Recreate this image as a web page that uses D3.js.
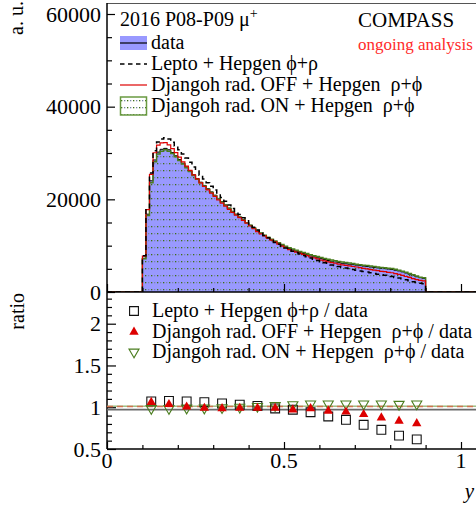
<!DOCTYPE html>
<html>
<head>
<meta charset="utf-8">
<script src="https://cdn.jsdelivr.net/npm/d3@7"></script>
<style>
  body { margin: 0; background: #fff; }
  svg { display: block; }
  text { font-family: "Liberation Serif", "Times New Roman", serif; fill: #000; }
</style>
</head>
<body>
<script>
// ---- y distribution, 0.01-wide bins from y = 0.10 to 0.90 ----
const binStart = 0.10;
const binWidth = 0.01;

const dataCounts = [
  7300, 16800, 24000, 28500, 30200, 30800, 31000, 30700, 30100, 29400,
  28600, 27800, 27000, 26200, 25300, 24500, 23700, 23000, 22300, 21600,
  20900, 20200, 19500, 18800, 18100, 17400, 16800, 16200, 15600, 15000,
  14400, 13800, 13200, 12700, 12200, 11700, 11300, 10900, 10500, 10100,
  9750, 9400, 9100, 8800, 8550, 8300, 8050, 7800, 7600, 7400,
  7200, 7000, 6800, 6650, 6500, 6350, 6200, 6100, 6000, 5900,
  5800, 5700, 5600, 5500, 5400, 5300, 5200, 5100, 5050, 4950,
  4850, 4700, 4550, 4350, 4100, 3850, 3550, 3300, 3100, 2950
];

const leptoCounts = [
  7800, 18000, 25700, 30500, 32400, 33000, 33300, 33000, 32300, 31500,
  30700, 29800, 28900, 28000, 27000, 26100, 25200, 24400, 23600, 22800,
  22000, 21200, 20400, 19600, 18800, 18000, 17400, 16700, 16000, 15400,
  14700, 14000, 13400, 12800, 12200, 11700, 11200, 10700, 10300, 9900,
  9500, 9150, 8800, 8500, 8200, 7900, 7600, 7350, 7050, 6800,
  6550, 6300, 6050, 5850, 5700, 5500, 5300, 5200, 5050, 4850,
  4700, 4550, 4400, 4300, 4150, 4000, 3850, 3700, 3600, 3500,
  3350, 3150, 3000, 2850, 2650, 2450, 2200, 2050, 1900, 1800
];

const djangohOffCounts = [
  7750, 17800, 25400, 30050, 31700, 32200, 32250, 31750, 30950, 30100,
  29100, 28100, 27150, 26250, 25300, 24400, 23550, 22770, 22050, 21350,
  20650, 19900, 19200, 18550, 17850, 17200, 16600, 16050, 15450, 14850,
  14250, 13650, 13050, 12550, 12100, 11600, 11200, 10800, 10350, 9900,
  9550, 9150, 8850, 8600, 8350, 8100, 7850, 7550, 7350, 7150,
  6900, 6700, 6500, 6350, 6200, 6000, 5850, 5750, 5650, 5500,
  5400, 5250, 5100, 5000, 4850, 4700, 4600, 4450, 4400, 4250,
  4150, 3950, 3800, 3600, 3350, 3150, 2900, 2650, 2500, 2400
];

const djangohOnCounts = [
  7200, 16500, 23600, 28100, 29800, 30400, 30700, 30400, 29900, 29200,
  28400, 27600, 26800, 26000, 25150, 24350, 23600, 22900, 22200, 21500,
  20800, 20100, 19400, 18750, 18050, 17350, 16750, 16150, 15550, 14950,
  14400, 13800, 13250, 12750, 12250, 11800, 11400, 11000, 10650, 10250,
  9900, 9550, 9300, 9000, 8750, 8550, 8300, 8050, 7850, 7650,
  7450, 7250, 7050, 6900, 6750, 6600, 6450, 6350, 6250, 6150,
  6000, 5900, 5800, 5700, 5600, 5500, 5400, 5300, 5250, 5150,
  5050, 4900, 4700, 4500, 4250, 4000, 3700, 3450, 3200, 3050
];

// ---- ratios to data, 0.05-wide bins ----
const ratioX = [0.125, 0.175, 0.225, 0.275, 0.325, 0.375, 0.425, 0.475,
                0.525, 0.575, 0.625, 0.675, 0.725, 0.775, 0.825, 0.875];
const ratioLepto = [1.07, 1.075, 1.07, 1.06, 1.045, 1.03, 1.015, 0.985,
                    0.97, 0.94, 0.89, 0.85, 0.79, 0.73, 0.66, 0.615];
const ratioDjangohOff = [1.06, 1.035, 1.005, 0.99, 0.985, 0.99, 0.99, 0.99,
                         0.97, 0.985, 0.955, 0.945, 0.915, 0.875, 0.835, 0.805];
const ratioDjangohOn = [0.985, 0.985, 0.99, 0.99, 0.995, 1.0, 1.01, 1.02,
                        1.03, 1.04, 1.04, 1.04, 1.04, 1.04, 1.035, 1.04];

// reference levels drawn across the ratio panel
const levelGray = 0.972;
const levelRed = 1.010;
const levelGreen = 1.013;

// ---- axes ----
const xTickValues = [0, 0.5, 1];
const xTickLabels = ["0", "0.5", "1"];
const xMinorStep = 0.1;
const countTickValues = [0, 20000, 40000, 60000];
const countTickLabels = ["0", "20000", "40000", "60000"];
const countMinorStep = 5000;
const ratioTickValues = [0.5, 1, 1.5, 2];
const ratioTickLabels = ["0.5", "1", "1.5", "2"];
const ratioMinorStep = 0.1;

const legendTop = [
  "data",
  "Lepto + Hepgen \u03D5+\u03C1",
  "Djangoh rad. OFF + Hepgen  \u03C1+\u03D5",
  "Djangoh rad. ON + Hepgen  \u03C1+\u03D5"
];
const legendRatio = [
  "Lepto + Hepgen \u03D5+\u03C1 / data",
  "Djangoh rad. OFF + Hepgen  \u03C1+\u03D5 / data",
  "Djangoh rad. ON + Hepgen  \u03C1+\u03D5 / data"
];

// ---- style ----
const W = 476, H = 506;
const blueFill = "#9999ff";
const red = "#dd0000";
const green = "#4a7d1e";

const svg = d3.select("body").append("svg").attr("width", W).attr("height", H);

const defs = svg.append("defs");
const pat = defs.append("pattern").attr("id", "dots")
  .attr("patternUnits", "userSpaceOnUse").attr("width", 6).attr("height", 7);
pat.append("rect").attr("x", 1).attr("y", 2).attr("width", 1.3).attr("height", 1.3).attr("fill", "#3f6f14");
pat.append("rect").attr("x", 4).attr("y", 2).attr("width", 1.3).attr("height", 1.3).attr("fill", "#7a86a8");

const x = d3.scaleLinear().domain([0, 1]).range([107, 461]);
const yTop = d3.scaleLinear().domain([0, 60000]).range([292, 14]);
const yRatio = d3.scaleLinear().domain([0.5, 2]).range([449, 323.7]);

const plotRight = x(1.1);
const topPadTop = 3;
const padSplit = 292;

defs.append("clipPath").attr("id", "clipTop").append("rect")
  .attr("x", x(0)).attr("y", topPadTop).attr("width", plotRight - x(0)).attr("height", padSplit - topPadTop);
defs.append("clipPath").attr("id", "clipRatio").append("rect")
  .attr("x", x(0)).attr("y", padSplit).attr("width", plotRight - x(0)).attr("height", yRatio(0.5) - padSplit);

// histogram step points: zero before, one point per bin, zero after
function stepPoints(counts) {
  const pts = [[0, 0]];
  counts.forEach((v, i) => pts.push([binStart + i * binWidth, v]));
  pts.push([binStart + counts.length * binWidth, 0]);
  pts.push([1.1, 0]);
  return pts;
}
const stepLine = d3.line().x(d => x(d[0])).y(d => yTop(d[1])).curve(d3.curveStepAfter);
const stepArea = d3.area().x(d => x(d[0])).y0(yTop(0)).y1(d => yTop(d[1])).curve(d3.curveStepAfter);

const gTop = svg.append("g").attr("clip-path", "url(#clipTop)");

// data: filled histogram
gTop.append("path").datum(stepPoints(dataCounts)).attr("d", stepArea).attr("fill", blueFill);
gTop.append("path").datum(stepPoints(dataCounts)).attr("d", stepLine)
  .attr("fill", "none").attr("stroke", "#000").attr("stroke-width", 1);
// Djangoh rad. ON: dotted hatch with green outline
gTop.append("path").datum(stepPoints(djangohOnCounts)).attr("d", stepArea).attr("fill", "url(#dots)");
gTop.append("path").datum(stepPoints(djangohOnCounts)).attr("d", stepLine)
  .attr("fill", "none").attr("stroke", green).attr("stroke-width", 1.5);
// Djangoh rad. OFF: red line
gTop.append("path").datum(stepPoints(djangohOffCounts)).attr("d", stepLine)
  .attr("fill", "none").attr("stroke", red).attr("stroke-width", 1.2);
// Lepto: dashed black line
gTop.append("path").datum(stepPoints(leptoCounts)).attr("d", stepLine)
  .attr("fill", "none").attr("stroke", "#000").attr("stroke-width", 1.5)
  .attr("stroke-dasharray", "5,4");

// ---- frames and axes ----
const axisColor = "#000";
// top frame line
svg.append("line").attr("x1", x(0)).attr("x2", plotRight).attr("y1", topPadTop + 0.5).attr("y2", topPadTop + 0.5)
  .attr("stroke", "#555").attr("stroke-width", 1);
// left axis line (both panels)
svg.append("line").attr("x1", x(0)).attr("x2", x(0)).attr("y1", topPadTop).attr("y2", yRatio(0.5))
  .attr("stroke", axisColor).attr("stroke-width", 1.5);
// top panel bottom axis
svg.append("line").attr("x1", x(0)).attr("x2", plotRight).attr("y1", yTop(0)).attr("y2", yTop(0))
  .attr("stroke", axisColor).attr("stroke-width", 1.5);
// ratio panel bottom axis
svg.append("line").attr("x1", x(0)).attr("x2", plotRight).attr("y1", yRatio(0.5)).attr("y2", yRatio(0.5))
  .attr("stroke", axisColor).attr("stroke-width", 1.5);

function range(a, b, step) {
  const out = [];
  for (let v = a; v <= b + 1e-9; v += step) out.push(+v.toFixed(6));
  return out;
}

// y ticks, top panel
const topAxis = d3.axisRight(yTop).tickValues(countTickValues).tickFormat("").tickSizeInner(8).tickSizeOuter(0);
svg.append("g").attr("transform", `translate(${x(0)},0)`).call(topAxis)
  .call(g => g.select(".domain").remove()).selectAll("line").attr("stroke-width", 1.2);
const topMinor = d3.axisRight(yTop).tickValues(range(0, 62000, countMinorStep).filter(v => v % 20000 !== 0))
  .tickFormat("").tickSizeInner(5).tickSizeOuter(0);
svg.append("g").attr("transform", `translate(${x(0)},0)`).call(topMinor)
  .call(g => g.select(".domain").remove()).selectAll("line").attr("stroke-width", 1.2);
svg.append("g").selectAll("text").data(countTickValues).join("text")
  .attr("x", 101).attr("y", d => yTop(d) + 7.5).attr("text-anchor", "end")
  .attr("font-size", 22).text((d, i) => countTickLabels[i]);

// y ticks, ratio panel
const ratioAxis = d3.axisRight(yRatio).tickValues(ratioTickValues).tickFormat("").tickSizeInner(9).tickSizeOuter(0);
svg.append("g").attr("transform", `translate(${x(0)},0)`).call(ratioAxis)
  .call(g => g.select(".domain").remove()).selectAll("line").attr("stroke-width", 1.2);
const ratioMinor = d3.axisRight(yRatio)
  .tickValues(range(0.5, 2.38, ratioMinorStep).filter(v => Math.abs(v * 2 - Math.round(v * 2)) > 1e-6))
  .tickFormat("").tickSizeInner(5).tickSizeOuter(0);
svg.append("g").attr("transform", `translate(${x(0)},0)`).call(ratioMinor)
  .call(g => g.select(".domain").remove()).selectAll("line").attr("stroke-width", 1.2);
svg.append("g").selectAll("text").data(ratioTickValues).join("text")
  .attr("x", 101).attr("y", d => yRatio(d) + 7.5).attr("text-anchor", "end")
  .attr("font-size", 22).text((d, i) => ratioTickLabels[i]);

// x ticks on both panels
[[yTop(0), 8, 4], [yRatio(0.5), 7, 4]].forEach(([y0, major, minor]) => {
  const ax = d3.axisTop(x).tickValues(xTickValues).tickFormat("").tickSizeInner(major).tickSizeOuter(0);
  svg.append("g").attr("transform", `translate(0,${y0})`).call(ax)
    .call(g => g.select(".domain").remove()).selectAll("line").attr("stroke-width", 1.2);
  const axm = d3.axisTop(x).tickValues(range(0, 1.1, xMinorStep).filter(v => Math.abs(v * 2 - Math.round(v * 2)) > 1e-6))
    .tickFormat("").tickSizeInner(minor).tickSizeOuter(0);
  svg.append("g").attr("transform", `translate(0,${y0})`).call(axm)
    .call(g => g.select(".domain").remove()).selectAll("line").attr("stroke-width", 1.2);
});
svg.append("g").selectAll("text").data(xTickValues).join("text")
  .attr("x", d => x(d)).attr("y", 468).attr("text-anchor", "middle")
  .attr("font-size", 22).text((d, i) => xTickLabels[i]);

// axis titles
svg.append("text").attr("transform", "translate(23,1) rotate(-90)").attr("text-anchor", "end")
  .attr("font-size", 20).text("a. u.");
svg.append("text").attr("transform", "translate(24,293) rotate(-90)").attr("text-anchor", "end")
  .attr("font-size", 20).text("ratio");
svg.append("text").attr("x", 474).attr("y", 498).attr("text-anchor", "end")
  .attr("font-size", 21).attr("font-style", "italic").text("y");

// ---- ratio panel ----
const gRatio = svg.append("g").attr("clip-path", "url(#clipRatio)");
gRatio.append("line").attr("x1", x(0)).attr("x2", plotRight).attr("y1", yRatio(levelGray)).attr("y2", yRatio(levelGray))
  .attr("stroke", "#6a6a6a").attr("stroke-width", 1.8);
gRatio.append("line").attr("x1", x(0)).attr("x2", plotRight).attr("y1", yRatio(levelGreen)).attr("y2", yRatio(levelGreen))
  .attr("stroke", "#6e9e45").attr("stroke-width", 1);
gRatio.append("line").attr("x1", x(0)).attr("x2", plotRight).attr("y1", yRatio(levelRed)).attr("y2", yRatio(levelRed))
  .attr("stroke", "#d2714f").attr("stroke-width", 1.5).attr("stroke-dasharray", "6,4");

const sq = d3.symbol().type(d3.symbolSquare).size(78);
const triUp = d3.symbol().type(d3.symbolTriangle).size(38);
const triDown = d3.symbol().type(d3.symbolTriangle).size(44);

gRatio.selectAll(".m-lepto").data(ratioX).join("path")
  .attr("transform", (d, i) => `translate(${x(d)},${yRatio(ratioLepto[i])})`)
  .attr("d", sq).attr("fill", "none").attr("stroke", "#111").attr("stroke-width", 1.1);
gRatio.selectAll(".m-on").data(ratioX).join("path")
  .attr("transform", (d, i) => `translate(${x(d)},${yRatio(ratioDjangohOn[i])}) rotate(180)`)
  .attr("d", triDown).attr("fill", "none").attr("stroke", green).attr("stroke-width", 1.1);
gRatio.selectAll(".m-off").data(ratioX).join("path")
  .attr("transform", (d, i) => `translate(${x(d)},${yRatio(ratioDjangohOff[i])})`)
  .attr("d", triUp).attr("fill", red);

// ---- legends ----
svg.append("text").attr("x", 120).attr("y", 26).attr("font-size", 20)
  .text("2016 P08-P09 \u03BC")
  .append("tspan").attr("dy", -8).attr("font-size", 14).text("+");
svg.append("text").attr("x", 358).attr("y", 27).attr("font-size", 21).text("COMPASS");
svg.append("text").attr("x", 358).attr("y", 50).attr("font-size", 17).style("fill", "#ff2a2a").text("ongoing analysis");

const rowY = [43, 64, 85, 106];
const symX0 = 120, symX1 = 147;
// data box
svg.append("rect").attr("x", symX0).attr("y", rowY[0] - 7).attr("width", symX1 - symX0).attr("height", 14).attr("fill", blueFill);
svg.append("line").attr("x1", symX0).attr("x2", symX1).attr("y1", rowY[0]).attr("y2", rowY[0]).attr("stroke", "#000").attr("stroke-width", 1.2);
// Lepto dashes
svg.append("line").attr("x1", symX0).attr("x2", symX1).attr("y1", rowY[1]).attr("y2", rowY[1])
  .attr("stroke", "#000").attr("stroke-width", 1.5).attr("stroke-dasharray", "4.5,3.5");
// Djangoh OFF line
svg.append("line").attr("x1", symX0).attr("x2", symX1).attr("y1", rowY[2]).attr("y2", rowY[2]).attr("stroke", red).attr("stroke-width", 1.2);
// Djangoh ON box
svg.append("rect").attr("x", symX0 + 0.5).attr("y", rowY[3] - 9).attr("width", symX1 - symX0 - 1).attr("height", 18)
  .attr("fill", "url(#dots)").attr("stroke", "#6a9a42").attr("stroke-width", 1.5);
svg.append("g").selectAll("text").data(legendTop).join("text")
  .attr("x", 151).attr("y", (d, i) => rowY[i] + 5.5).attr("font-size", 20)
  .style("white-space", "pre").text(d => d);

const ratioRowY = [311, 332, 352];
svg.append("path").attr("transform", `translate(134,${ratioRowY[0]})`).attr("d", sq)
  .attr("fill", "none").attr("stroke", "#111").attr("stroke-width", 1.1);
svg.append("path").attr("transform", `translate(134,${ratioRowY[1]})`).attr("d", triUp).attr("fill", red);
svg.append("path").attr("transform", `translate(134,${ratioRowY[2]}) rotate(180)`).attr("d", triDown)
  .attr("fill", "none").attr("stroke", green).attr("stroke-width", 1.1);
svg.append("g").selectAll("text").data(legendRatio).join("text")
  .attr("x", 152).attr("y", (d, i) => ratioRowY[i] + 5.5).attr("font-size", 20)
  .style("white-space", "pre").text(d => d);
</script>
</body>
</html>
